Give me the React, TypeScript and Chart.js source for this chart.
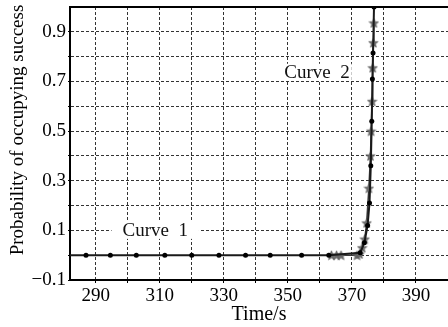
import { useEffect, useRef } from "react";
import { Chart, registerables } from "chart.js";

Chart.register(...registerables);

// Curve 1 (dots); first point lies just left of the visible range
const curve1Time = [280.0, 287.0, 294.6, 302.7, 311.6, 320.0, 328.5, 336.8, 344.5, 354.3, 362.8, 372.6, 373.9, 374.9, 375.5, 375.9, 376.2, 376.4, 376.6, 376.9];
const curve1Prob = [0, 0, 0, 0, 0, 0, 0, 0, 0, 0, 0, 0.01, 0.05, 0.12, 0.21, 0.36, 0.54, 0.71, 0.815, 1.0];
// Curve 2 (stars)
const curve2Time = [363.6, 365.2, 366.6, 371.6, 372.4, 373.2, 374.0, 374.6, 375.3, 375.8, 376.0, 376.3, 376.5, 376.7, 376.85];
const curve2Prob = [0, 0, 0, 0, 0.005, 0.03, 0.065, 0.13, 0.27, 0.40, 0.50, 0.62, 0.755, 0.856, 0.936];

const xLabelTicks = [290, 310, 330, 350, 370, 390];
const yLabelTicks = [-0.1, 0.1, 0.3, 0.5, 0.7, 0.9];

const xTitle = "Time/s";
const yTitle = "Probability of occupying success";

const curveLabels = [
  { text: "Curve  1", x: 298.4, y: 0.102, padX: 11 },
  { text: "Curve  2", x: 348.9, y: 0.739, padX: 2 },
];

const FONT = "'Liberation Serif', 'DejaVu Serif', serif";

function makeStar(): HTMLCanvasElement {
  const c = document.createElement("canvas");
  const s = 11;
  c.width = s;
  c.height = s;
  const ctx = c.getContext("2d")!;
  const cx = s / 2, cy = s / 2 + 0.5, R = 5, r = 2.2;
  ctx.beginPath();
  for (let i = 0; i < 10; i++) {
    const ang = -Math.PI / 2 + (i * Math.PI) / 5;
    const rad = i % 2 === 0 ? R : r;
    const px = cx + rad * Math.cos(ang);
    const py = cy + rad * Math.sin(ang);
    if (i === 0) ctx.moveTo(px, py);
    else ctx.lineTo(px, py);
  }
  ctx.closePath();
  ctx.fillStyle = "#6a6a6a";
  ctx.fill();
  ctx.strokeStyle = "#555";
  ctx.lineWidth = 0.6;
  ctx.stroke();
  return c;
}

export default function App() {
  const ref = useRef<HTMLCanvasElement | null>(null);

  useEffect(() => {
    document.body.style.margin = "0";
    const star = makeStar();
    const decor = {
      id: "decor",
      afterDraw(chart: any) {
        const { ctx, chartArea } = chart;
        ctx.save();
        ctx.strokeStyle = "#000";
        ctx.lineWidth = 2;
        ctx.beginPath();
        ctx.moveTo(chartArea.left - 1, chartArea.top);
        ctx.lineTo(chartArea.right, chartArea.top);
        ctx.stroke();
        // y axis title
        ctx.translate(18, 130);
        ctx.rotate(-Math.PI / 2);
        ctx.font = `19px ${FONT}`;
        ctx.fillStyle = "#000";
        ctx.textAlign = "center";
        ctx.textBaseline = "middle";
        ctx.fillText(yTitle, 0, 0);
        ctx.restore();
      },
    };
    const labelsPlugin = {
      id: "curveLabels",
      afterDatasetsDraw(chart: any) {
        const { ctx } = chart;
        const xs = chart.scales.x;
        const ys = chart.scales.y;
        ctx.save();
        ctx.font = `19px ${FONT}`;
        ctx.textAlign = "left";
        ctx.textBaseline = "middle";
        for (const l of curveLabels) {
          const px = xs.getPixelForValue(l.x);
          const py = ys.getPixelForValue(l.y);
          const w = ctx.measureText(l.text).width;
          ctx.fillStyle = "#fff";
          ctx.fillRect(px - l.padX, py - 8, w + 2 * l.padX, 17);
          ctx.fillStyle = "#111";
          ctx.fillText(l.text, px, py + 1);
        }
        ctx.restore();
      },
    };

    const chart = new Chart(ref.current!, {
      type: "line",
      data: {
        datasets: [
          {
            label: "Curve 1",
            data: curve1Time.map((t, i) => ({ x: t, y: curve1Prob[i] })),
            borderColor: "#1a1a1a",
            borderWidth: 2,
            pointStyle: "circle",
            pointRadius: 2.5,
            pointBackgroundColor: "#000",
            pointBorderColor: "#000",
            pointBorderWidth: 0,
            tension: 0,
          },
          {
            label: "Curve 2",
            data: curve2Time.map((t, i) => ({ x: t, y: curve2Prob[i] })),
            borderColor: "#3a3a3a",
            borderWidth: 1.5,
            pointStyle: star,
            pointRadius: 5,
            tension: 0,
          },
        ],
      },
      options: {
        animation: false,
        responsive: true,
        maintainAspectRatio: false,
        layout: { autoPadding: false, padding: { top: 7, right: 0, left: 0, bottom: 0 } },
        plugins: { legend: { display: false }, tooltip: { enabled: false } },
        scales: {
          x: {
            type: "linear",
            min: 282,
            max: 400,
            ticks: {
              stepSize: 10,
              includeBounds: false,
              autoSkip: false,
              maxRotation: 0,
              padding: 2,
              color: "#000",
              font: { family: FONT, size: 19 },
              callback: (v: any) => {
                const n = Math.round(Number(v));
                if (n < 290 || n > 390) return null;
                return xLabelTicks.includes(n) ? String(n) : "";
              },
            },
            grid: {
              color: (c: any) => (c.tick && (c.tick.value < 290 || c.tick.value > 390) ? "rgba(0,0,0,0)" : "#333"),
              lineWidth: 1,
              tickLength: 3,
              tickColor: "#000",
              tickBorderDash: [],
            },
            border: { display: true, color: "#000", width: 2, dash: [3, 2] },
            title: {
              display: true,
              text: xTitle,
              color: "#000",
              font: { family: FONT, size: 20 },
              padding: { top: 0, bottom: 0 },
            },
            afterFit: (s: any) => {
              s.height = 47;
              s.paddingLeft = 0;
              s.paddingRight = 0;
            },
          },
          y: {
            type: "linear",
            min: -0.1,
            max: 1.0,
            ticks: {
              stepSize: 0.1,
              includeBounds: false,
              autoSkip: false,
              padding: 2,
              color: "#000",
              font: { family: FONT, size: 19 },
              callback: (v: any) => {
                const n = Math.round(Number(v) * 10);
                if (n >= 10) return null;
                const hit = yLabelTicks.some((t) => Math.round(t * 10) === n);
                if (!hit) return "";
                return n < 0 ? "\u2212" + (Math.abs(n) / 10).toFixed(1) : (n / 10).toFixed(1);
              },
            },
            grid: {
              color: "#333",
              lineWidth: 1,
              tickLength: 2,
              tickColor: "#000",
              tickBorderDash: [],
            },
            border: { display: true, color: "#000", width: 2, dash: [3, 2] },
            afterFit: (s: any) => {
              s.width = 70;
              s.paddingTop = 0;
              s.paddingBottom = 0;
            },
          },
        },
      },
      plugins: [decor, labelsPlugin],
    });
    return () => chart.destroy();
  }, []);

  return (
    <div style={{ position: "fixed", left: 0, top: 0, width: 448, height: 327 }}>
      <canvas ref={ref} />
    </div>
  );
}
